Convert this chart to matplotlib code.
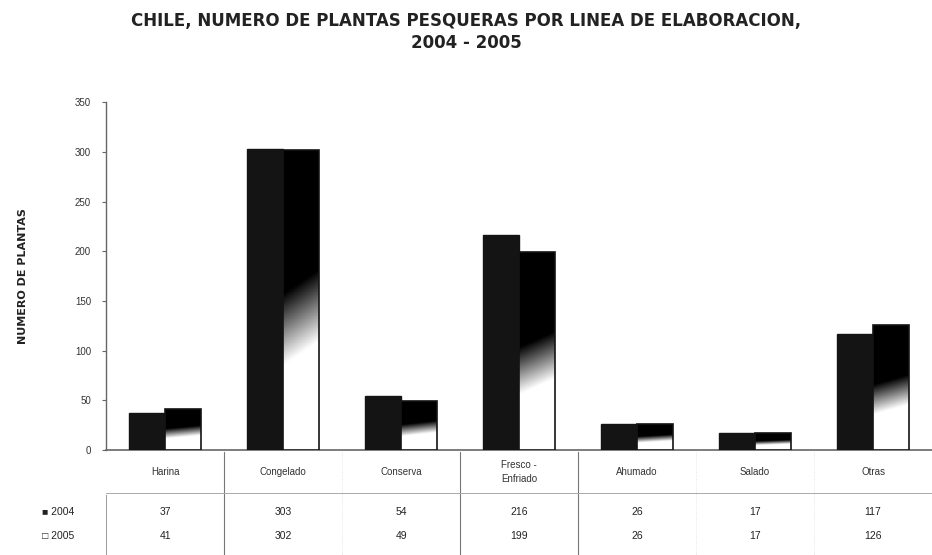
import numpy as np
import matplotlib

matplotlib.use("Agg")
import matplotlib.pyplot as plt
from matplotlib.transforms import blended_transform_factory

plt.rcParams["font.family"] = ["Liberation Sans", "DejaVu Sans"]

categorias = ["Harina", "Congelado", "Conserva", "Fresco -\nEnfriado", "Ahumado", "Salado", "Otras"]
plantas_2004 = [37, 303, 54, 216, 26, 17, 117]
plantas_2005 = [41, 302, 49, 199, 26, 17, 126]
anios = ["2004", "2005"]
yticks = [0, 50, 100, 150, 200, 250, 300, 350]

INK = "#141414"

fig = plt.figure(figsize=(9.32, 5.55), dpi=100)
ax = fig.add_axes([0.114, 0.189, 0.886, 0.627])

x = np.arange(len(categorias))
w = 0.305
b1 = ax.bar(x - w / 2, plantas_2004, w, color=INK, edgecolor=INK, lw=1, zorder=3)
b2 = ax.bar(x + w / 2, plantas_2005, w, facecolor="none", edgecolor=INK, lw=1.2, zorder=4)

# 2005 bars: dark top fading to white at the bottom
t = np.linspace(0, 1, 200)[:, None]
s = np.linspace(0, 1, 40)[None, :]
grad = np.clip((0.56 - t - 0.08 * (0.5 - s)) / 0.24, 0, 1)
for bar in b2:
    x0, y0 = bar.get_xy()
    im = ax.imshow(grad, extent=[x0, x0 + bar.get_width(), 0, bar.get_height()],
                   origin="lower", cmap="gray", vmin=0, vmax=1, aspect="auto", zorder=3.5)
    im.set_clip_path(bar)

ax.set_xlim(-0.5, len(categorias) - 0.5)
ax.set_ylim(0, 350)
ax.set_yticks(yticks)
ax.set_yticklabels([str(v) for v in yticks], fontsize=7, color="#333333")
ax.tick_params(axis="y", length=3, pad=8, color="#666666")
ax.set_xticks([])
for sp in ["top", "right"]:
    ax.spines[sp].set_visible(False)
ax.spines["left"].set_color("#666666")
ax.spines["bottom"].set_color("#666666")
ax.spines["left"].set_linewidth(1)
ax.spines["bottom"].set_linewidth(1.2)

ax.set_ylabel("NUMERO DE PLANTAS", fontsize=8, fontweight="bold", labelpad=34,
              family="DejaVu Sans", color="#222222")

# data table under the chart
tr = blended_transform_factory(ax.transData, fig.transFigure)
def fy(py):
    return 1 - py / 555

for i, c in enumerate(categorias):
    ax.text(i, fy(472), c, transform=tr, ha="center", va="center", fontsize=7,
            color="#333333", linespacing=1.6)
    ax.text(i, fy(512), str(plantas_2004[i]), transform=tr, ha="center", va="center",
            fontsize=7.5, color="#222222")
    ax.text(i, fy(536), str(plantas_2005[i]), transform=tr, ha="center", va="center",
            fontsize=7.5, color="#222222")

fig.text(42 / 932, fy(512), "\u25a0 " + anios[0], ha="left", va="center", fontsize=7.5, color="#222222")
fig.text(42 / 932, fy(536), "\u25a1 " + anios[1], ha="left", va="center", fontsize=7.5, color="#222222")

for b in np.arange(0.5, len(categorias) - 0.5, 1):
    strong = b in (0.5, 2.5, 3.5)
    ax.plot([b, b], [fy(452), fy(555)], transform=tr, clip_on=False,
            color="#777777" if strong else "#dddddd", lw=0.8 if strong else 0.6,
            ls="-" if strong else ":")
ax.plot([-0.5, -0.5], [fy(495), fy(555)], transform=tr, clip_on=False, color="#999999", lw=0.7)
ax.plot([-0.5, 6.5], [fy(493), fy(493)], transform=tr, clip_on=False, color="#aaaaaa", lw=0.7)

fig.text(0.5, fy(21), "CHILE, NUMERO DE PLANTAS PESQUERAS POR LINEA DE ELABORACION,",
         ha="center", va="center", fontsize=12, fontweight="bold", color="#222222",
         family="DejaVu Sans")
fig.text(0.5, fy(43), "2004 - 2005", ha="center", va="center", fontsize=12,
         fontweight="bold", color="#222222", family="DejaVu Sans")

fig.savefig("out.png", dpi=100, facecolor="white")
